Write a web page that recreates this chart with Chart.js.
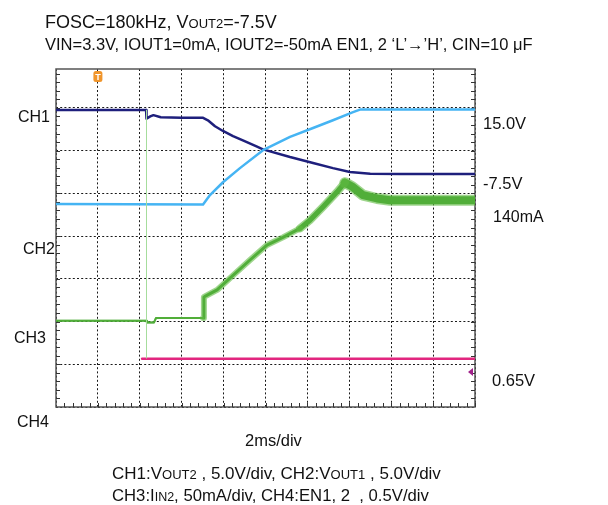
<!DOCTYPE html>
<html>
<head>
<meta charset="utf-8">
<script src="https://cdn.jsdelivr.net/npm/chart.js@4.4.0/dist/chart.umd.min.js"></script>
<style>
  body { margin: 0; background: #fff; }
  #scope { display: block; }
</style>
</head>
<body>
<canvas id="scope" width="608" height="505"></canvas>
<script>
// time in ms (2ms/div), level in screen divisions from the bottom of the grid
const ch1Time = [0, 4.3, 4.32, 4.5, 4.65, 5.0, 6.0, 7.0, 7.25, 7.59, 7.97, 8.45, 8.92, 9.57, 9.88, 11.17, 12.27, 13.22, 14.03, 15.0, 16.4, 20];
const ch1Div  = [6.95, 6.95, 6.75, 6.80, 6.83, 6.78, 6.77, 6.77, 6.71, 6.57, 6.46, 6.34, 6.24, 6.10, 6.03, 5.85, 5.71, 5.59, 5.50, 5.46, 5.45, 5.45];

const ch2Time = [0, 7.02, 7.35, 7.97, 8.78, 9.88, 11.17, 12.27, 13.22, 14.18, 14.51, 20];
const ch2Div  = [4.75, 4.74, 4.96, 5.26, 5.59, 6.01, 6.32, 6.53, 6.71, 6.90, 6.96, 6.96];

const ch3Time = [0, 4.30, 4.34, 4.68, 4.77, 7.02, 7.06, 7.11, 7.69, 8.45, 9.26, 10.07, 10.83, 11.65, 12.12, 12.74, 13.41, 13.79, 14.13, 14.65, 15.32, 15.94, 20];
const ch3Div  = [2.02, 2.02, 1.98, 1.98, 2.08, 2.08, 2.57, 2.59, 2.74, 3.08, 3.44, 3.79, 3.97, 4.18, 4.37, 4.68, 5.03, 5.25, 5.16, 4.96, 4.88, 4.84, 4.84];

// inrush spike of CH3 at the enable edge
const spikeTime = [4.32, 4.32];
const spikeDiv  = [1.14, 6.95];

const ch4Time = [4.11, 20];
const ch4Div  = [1.13, 1.13];

const triggerTime = 2;
const ch4Threshold = 0.82;

const xTicks = [0, 2, 4, 6, 8, 10, 12, 14, 16, 18, 20];
const yTicks = [0, 1, 2, 3, 4, 5, 6, 7];

const pts = (xs, ys) => xs.map((x, i) => ({ x: x, y: ys[i] }));

const FONT = '"Liberation Sans", Arial, sans-serif';

// text drawn in runs so the small-caps parts (OUT2, IN2) can be smaller
function text(ctx, size, x, y, parts) {
  parts.forEach(p => {
    const txt = typeof p === 'string' ? p : p[0];
    ctx.font = (typeof p === 'string' ? size : p[1]) + 'px ' + FONT;
    ctx.fillText(txt, x, y);
    x += ctx.measureText(txt).width;
  });
}

// noise band of CH3 gets wider once the converter is switching
const bandWidth = t => (t < 7 ? 0 : t < 11 ? 4 : t < 13.5 ? 6 : 9);

const scopePlugin = {
  id: 'scope',
  beforeDatasetsDraw(chart) {
    const { ctx, chartArea: a, scales: { x, y } } = chart;
    ctx.save();
    ctx.strokeStyle = '#555';
    ctx.lineWidth = 1.5;
    ctx.strokeRect(a.left, a.top, a.right - a.left, a.bottom - a.top);
    ctx.lineWidth = 1;
    ctx.strokeStyle = '#333';
    ctx.beginPath();
    for (let t = 0.4; t < 20; t += 0.4) {
      const px = Math.round(x.getPixelForValue(t)) + 0.5;
      ctx.moveTo(px, a.bottom);
      ctx.lineTo(px, a.bottom - 4);
    }
    for (let v = 0.2; v < 7.9; v += 0.2) {
      const py = Math.round(y.getPixelForValue(v)) + 0.5;
      ctx.moveTo(a.left, py);
      ctx.lineTo(a.left + 4, py);
      ctx.moveTo(a.right, py);
      ctx.lineTo(a.right - 4, py);
    }
    ctx.stroke();
    ctx.restore();
  },
  afterDraw(chart) {
    const { ctx, scales: { x, y } } = chart;
    ctx.save();
    ctx.fillStyle = '#111';
    ctx.textBaseline = 'alphabetic';

    text(ctx, 18, 45, 28, ['FOSC=180kHz, V', ['OUT2', 13], '=-7.5V']);
    text(ctx, 16.5, 45, 50, ['VIN=3.3V, IOUT1=0mA, IOUT2=-50mA EN1, 2 \u2018L\u2019\u2192\u2019H\u2019, CIN=10 \u03bcF']);

    text(ctx, 16, 18, 122, ['CH1']);
    text(ctx, 16, 23, 254, ['CH2']);
    text(ctx, 16, 14, 343, ['CH3']);
    text(ctx, 16, 17, 427, ['CH4']);

    text(ctx, 16.5, 483, 129, ['15.0V']);
    text(ctx, 16.5, 483, 189, ['-7.5V']);
    text(ctx, 16, 493, 222, ['140mA']);
    text(ctx, 16.5, 492, 386, ['0.65V']);

    text(ctx, 16.5, 245, 446, ['2ms/div']);
    text(ctx, 17, 112, 479, ['CH1:V', ['OUT2', 13], ' , 5.0V/div, CH2:V', ['OUT1', 13], ' , 5.0V/div']);
    text(ctx, 16.7, 112, 501, ['CH3:I', ['IN2', 12.5], ', 50mA/div, CH4:EN1, 2  , 0.5V/div']);

    // trigger position marker
    const tx = x.getPixelForValue(triggerTime);
    const top = chart.chartArea.top;
    ctx.fillStyle = '#f0952b';
    ctx.beginPath();
    ctx.roundRect(tx - 4.5, top + 2, 9, 11, 2.5);
    ctx.fill();
    ctx.fillStyle = '#fff';
    ctx.font = 'bold 9px ' + FONT;
    ctx.textAlign = 'center';
    ctx.fillText('T', tx, top + 11);

    // CH4 threshold marker
    const my = y.getPixelForValue(ch4Threshold);
    const mx = chart.chartArea.right - 2;
    ctx.fillStyle = '#a0208a';
    ctx.beginPath();
    ctx.moveTo(mx - 5, my);
    ctx.lineTo(mx, my - 4);
    ctx.lineTo(mx, my + 4);
    ctx.closePath();
    ctx.fill();
    ctx.restore();
  }
};

new Chart(document.getElementById('scope'), {
  type: 'line',
  data: {
    datasets: [{
      label: 'CH3 spike',
      data: pts(spikeTime, spikeDiv),
      borderColor: '#a6dd9c',
      borderWidth: 1
    }, {
      label: 'CH4',
      data: pts(ch4Time, ch4Div),
      borderColor: '#e2267f',
      borderWidth: 2.5
    }, {
      label: 'CH3 noise',
      data: pts(ch3Time, ch3Div),
      borderColor: 'rgba(95,185,65,0.6)',
      segment: { borderWidth: c => bandWidth(c.p0.parsed.x) + 2 }
    }, {
      label: 'CH3',
      data: pts(ch3Time, ch3Div),
      borderColor: '#3c9d2f',
      segment: { borderWidth: c => Math.max(2, bandWidth(c.p0.parsed.x) - 1) }
    }, {
      label: 'CH2',
      data: pts(ch2Time, ch2Div),
      borderColor: '#45b4f3',
      borderWidth: 2.5
    }, {
      label: 'CH1',
      data: pts(ch1Time, ch1Div),
      borderColor: '#1e1f7c',
      borderWidth: 2.5
    }]
  },
  options: {
    responsive: false,
    animation: false,
    parsing: false,
    layout: { padding: { left: 56, right: 133, top: 69, bottom: 98 } },
    elements: {
      point: { radius: 0 },
      line: { tension: 0, borderJoinStyle: 'round', borderCapStyle: 'round' }
    },
    plugins: { legend: { display: false }, tooltip: { enabled: false } },
    scales: {
      x: {
        type: 'linear',
        min: 0,
        max: 20,
        afterBuildTicks: s => { s.ticks = xTicks.map(v => ({ value: v })); },
        ticks: { display: false },
        grid: { color: '#1a1a1a', lineWidth: 1, drawTicks: false },
        border: { display: false, dash: [2, 2.2] }
      },
      y: {
        type: 'linear',
        min: 0,
        max: 7.91,
        afterBuildTicks: s => { s.ticks = yTicks.map(v => ({ value: v })); },
        ticks: { display: false },
        grid: { color: '#1a1a1a', lineWidth: 1, drawTicks: false },
        border: { display: false, dash: [2, 2.2] }
      }
    }
  },
  plugins: [scopePlugin]
});
</script>
</body>
</html>
